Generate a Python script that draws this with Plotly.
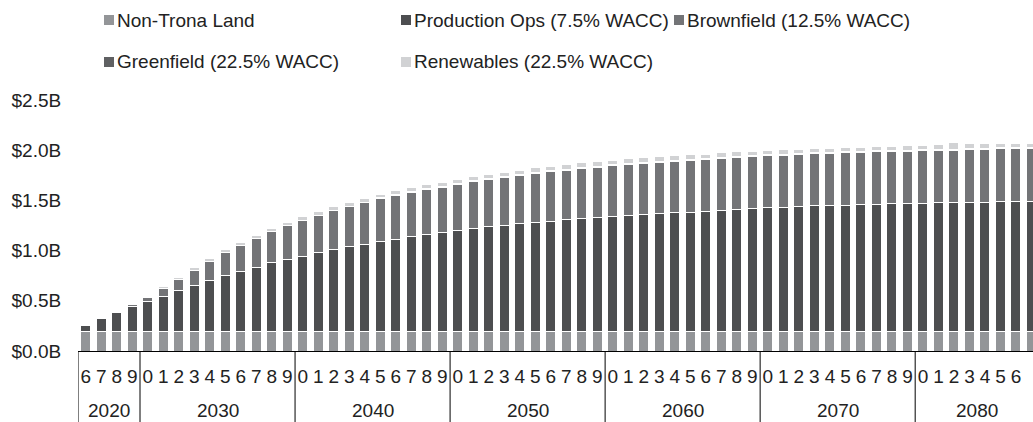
import plotly.graph_objects as go

years = list(range(2026, 2088))
digit_labels = [str(y % 10) for y in years]
decades = sorted(set(y // 10 * 10 for y in years))
decade_labels = [str(d) for d in decades]

non_trona = [0.19] * 62
production = [0.06, 0.13, 0.19, 0.25,
              0.30, 0.35, 0.41, 0.46, 0.51, 0.56, 0.60, 0.64, 0.69, 0.72,
              0.75, 0.79, 0.82, 0.85, 0.87, 0.90, 0.92, 0.95, 0.97, 0.99,
              1.01, 1.03, 1.05, 1.06, 1.08, 1.09, 1.10, 1.12, 1.13, 1.14,
              1.15, 1.16, 1.17, 1.18, 1.19, 1.19, 1.20, 1.21, 1.22, 1.23,
              1.24, 1.24, 1.25, 1.26, 1.26, 1.26, 1.27, 1.27, 1.28, 1.28,
              1.28, 1.29, 1.29, 1.29, 1.29, 1.30, 1.30, 1.30]
brownfield = [0, 0, 0, 0.02,
              0.04, 0.08, 0.11, 0.15, 0.19, 0.23, 0.26, 0.29, 0.31, 0.34,
              0.36, 0.37, 0.39, 0.40, 0.42, 0.43, 0.44, 0.44, 0.45, 0.45,
              0.46, 0.47, 0.47, 0.48, 0.48, 0.49, 0.50, 0.49, 0.50, 0.50,
              0.51, 0.51, 0.51, 0.51, 0.51, 0.52, 0.52, 0.52, 0.52, 0.52,
              0.52, 0.52, 0.52, 0.52, 0.52, 0.53, 0.52, 0.53, 0.52, 0.52,
              0.53, 0.52, 0.52, 0.53, 0.53, 0.53, 0.53, 0.53]
greenfield = [0] * 19 + [0.01] * 43
renewables = [0, 0, 0, 0,
              0.01, 0.02, 0.02, 0.03, 0.03, 0.03, 0.03, 0.03, 0.03, 0.03,
              0.04, 0.04, 0.04, 0.04, 0.04, 0.03, 0.04, 0.04, 0.04, 0.04,
              0.04, 0.04, 0.04, 0.04, 0.04, 0.05, 0.04, 0.05, 0.05, 0.05,
              0.04, 0.05, 0.05, 0.05, 0.05, 0.05, 0.04, 0.05, 0.05, 0.04,
              0.04, 0.05, 0.04, 0.04, 0.04, 0.04, 0.04, 0.04, 0.04, 0.05,
              0.04, 0.05, 0.07, 0.05, 0.05, 0.04, 0.04, 0.04]

series_names = ["Non-Trona Land", "Production Ops (7.5% WACC)", "Brownfield (12.5% WACC)",
                "Greenfield (22.5% WACC)", "Renewables (22.5% WACC)"]
series_values = [non_trona, production, brownfield, greenfield, renewables]
colors = ["#939598", "#4d4e50", "#737477", "#5f6062", "#d1d2d4"]

y_ticks = [0, 0.5, 1.0, 1.5, 2.0, 2.5]
y_ticktext = ["$%.1fB" % v for v in y_ticks]

W, H = 1033, 422
ML, MR, MT, MB = 78, 0, 100, 71
PW, PH = W - ML - MR, H - MT - MB
FONT = "Liberation Sans, Arial, sans-serif"
TXT = "#222222"
FS = 19

fig = go.Figure()
for name, vals, col in zip(series_names, series_values, colors):
    fig.add_trace(go.Bar(
        x=years, y=vals, name=name,
        marker=dict(color=col, line=dict(color="white", width=1)),
        showlegend=False))

def px2x(px):
    return (px - ML) / PW
def py2y(py):
    return (H - MB - py) / PH

shapes = []
annotations = []

# legend (Excel-style, two rows)
legend_pos = [(104, 20), (401, 20), (674, 20), (104, 62), (401, 62)]
for (lx, ly), name, col in zip(legend_pos, series_names, colors):
    shapes.append(dict(type="rect", xref="paper", yref="paper",
                       x0=px2x(lx), x1=px2x(lx + 10), y0=py2y(ly + 5), y1=py2y(ly - 5),
                       fillcolor=col, line=dict(width=0)))
    annotations.append(dict(text=name, xref="paper", yref="paper",
                            x=px2x(lx + 11), y=py2y(ly), xanchor="left", yanchor="middle",
                            showarrow=False, font=dict(family=FONT, size=FS, color=TXT)))

# second-level (decade) axis: group dividers and labels
for d, lab in zip(decades, decade_labels):
    grp = [y for y in years if y // 10 * 10 == d]
    first, last = min(grp), max(grp)
    shapes.append(dict(type="line", xref="x", yref="paper", x0=first - 0.5, x1=first - 0.5,
                       y0=0, y1=py2y(H), line=dict(color="#000000", width=1)))
    annotations.append(dict(text=lab, xref="x", yref="paper", x=(first + last) / 2,
                            y=py2y(410), xanchor="center", yanchor="middle", showarrow=False,
                            font=dict(family=FONT, size=FS, color=TXT)))

fig.update_layout(
    width=W, height=H, margin=dict(l=ML, r=MR, t=MT, b=MB, autoexpand=False),
    template="none", paper_bgcolor="white", plot_bgcolor="white",
    barmode="stack", bargap=0.36,
    font=dict(family=FONT, size=FS, color=TXT),
    shapes=shapes, annotations=annotations,
    xaxis=dict(range=[years[0] - 0.5, 2087.1], tickmode="array", tickvals=years,
               ticktext=digit_labels, tickangle=0,
               showline=True, linecolor="#000000", linewidth=1, showgrid=False, zeroline=False,
               ticks="outside", ticklen=8, tickcolor="rgba(0,0,0,0)",
               tickfont=dict(family=FONT, size=FS, color=TXT), automargin=False),
    yaxis=dict(range=[0, 2.5], tickvals=y_ticks, ticktext=y_ticktext, showgrid=False,
               zeroline=False, showline=False, ticks="outside", ticklen=12,
               tickcolor="rgba(0,0,0,0)", tickfont=dict(family=FONT, size=FS, color=TXT),
               automargin=False),
)

fig.write_html("out.html")
